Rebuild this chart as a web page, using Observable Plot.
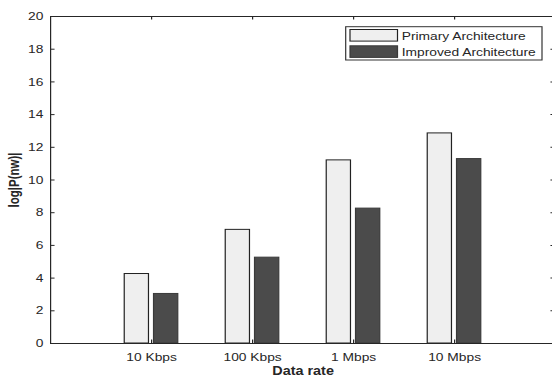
<!DOCTYPE html>
<html><head><meta charset="utf-8">
<script src="https://cdn.jsdelivr.net/npm/d3@7"></script>
<script src="https://cdn.jsdelivr.net/npm/@observablehq/plot@0.6"></script>
<style>
body{margin:0;background:#fff;}
#chart{position:relative;width:552px;height:378px;overflow:hidden;background:#fff;}
</style>
</head><body><div id="chart"></div>
<script>
const categories = ["10 Kbps", "100 Kbps", "1 Mbps", "10 Mbps"];
const primary = [4.25, 6.95, 11.2, 12.85];
const improved = [3.03, 5.25, 8.25, 11.28];
const seriesNames = ["Primary Architecture", "Improved Architecture"];
const yTicks = [0, 2, 4, 6, 8, 10, 12, 14, 16, 18, 20];
const xLabel = "Data rate";
const yLabel = "log|P(nw)|";

(function () {
const SX = 1.2;               // horizontal stretch of the original figure
const W = 552 / SX, H = 378;
const pLeft = 50 / SX, pRight = 555 / SX, pTop = 16, pBottom = 343;
const ink = "#262626";
const cats = categories.map((c, i) => i + 1);

const rowsP = categories.map((c, i) => ({cat: i + 1, value: primary[i]}));
const rowsI = categories.map((c, i) => ({cat: i + 1, value: improved[i]}));

const svg = Plot.plot({
  width: W, height: H,
  marginLeft: pLeft, marginRight: W - pRight, marginTop: pTop, marginBottom: H - pBottom,
  x: {domain: [0, 5], range: [pLeft, pRight], axis: null},
  y: {domain: [0, 20], range: [pBottom, pTop], axis: null},
  style: {fontFamily: "'Liberation Sans', Arial, Helvetica, sans-serif", color: ink, background: "white"},
  marks: [
    Plot.rectY(rowsP, {x1: d => d.cat - 0.265, x2: d => d.cat - 0.025, y1: 0, y2: "value", fill: "#efefef", stroke: "#222", strokeWidth: 1}),
    Plot.rectY(rowsI, {x1: d => d.cat + 0.025, x2: d => d.cat + 0.265, y1: 0, y2: "value", fill: "#4b4b4b", stroke: "#3a3a3a", strokeWidth: 1}),
    Plot.axisY(yTicks, {tickSize: 0, tickPadding: 6, label: null, fontSize: 11.5, fill: ink}),
    Plot.axisX(cats, {tickSize: 0, tickPadding: 9, label: null, fontSize: 11.5, fill: ink, tickFormat: i => categories[i - 1]}),
    Plot.ruleY(yTicks, {x1: 0, x2: 0.045, stroke: ink}),
    Plot.ruleY(yTicks, {x1: 4.955, x2: 5, stroke: ink}),
    Plot.ruleX(cats, {y1: 0, y2: 0.22, stroke: ink}),
    Plot.ruleX(cats, {y1: 20, y2: 19.78, stroke: ink}),
    Plot.ruleX([0, 5], {y1: 0, y2: 20, stroke: ink}),
    Plot.ruleY([0, 20], {x1: 0, x2: 5, stroke: ink}),
    Plot.text([yLabel], {frameAnchor: "left", dx: -30, rotate: -90, fontWeight: "bold", fontSize: 11.5, fill: ink, textAnchor: "middle", lineAnchor: "middle"}),
    Plot.text([xLabel], {frameAnchor: "bottom", dy: 31, fontWeight: "bold", fontSize: 12, fill: ink, lineAnchor: "bottom"})
  ]
});

svg.setAttribute("viewBox", `0 0 ${W} ${H}`);
svg.setAttribute("preserveAspectRatio", "none");
svg.setAttribute("width", 552);
svg.setAttribute("height", H);
svg.style.width = "552px";
svg.style.height = H + "px";
svg.style.maxWidth = "none";

const lg = d3.select(svg).append("g").attr("text-anchor", "start");
lg.append("rect").attr("x", 345.7 / SX).attr("y", 26.7).attr("width", (542 - 345.7) / SX).attr("height", 33.3)
  .attr("fill", "white").attr("stroke", "#333").attr("stroke-width", 1);
const swFill = ["#efefef", "#4b4b4b"], swStroke = ["#222", "#3a3a3a"];
seriesNames.forEach((name, k) => {
  const y0 = k === 0 ? 29.5 : 45.8;
  lg.append("rect").attr("x", 350 / SX).attr("y", y0).attr("width", 47.5 / SX).attr("height", 11.6)
    .attr("fill", swFill[k]).attr("stroke", swStroke[k]).attr("stroke-width", 1);
  lg.append("text").attr("x", 401.7 / SX).attr("y", y0 + 10.2).attr("font-size", 11.5)
    .attr("text-anchor", "start").attr("fill", ink).text(name);
});

document.getElementById("chart").appendChild(svg);
})();
</script>
</body></html>
